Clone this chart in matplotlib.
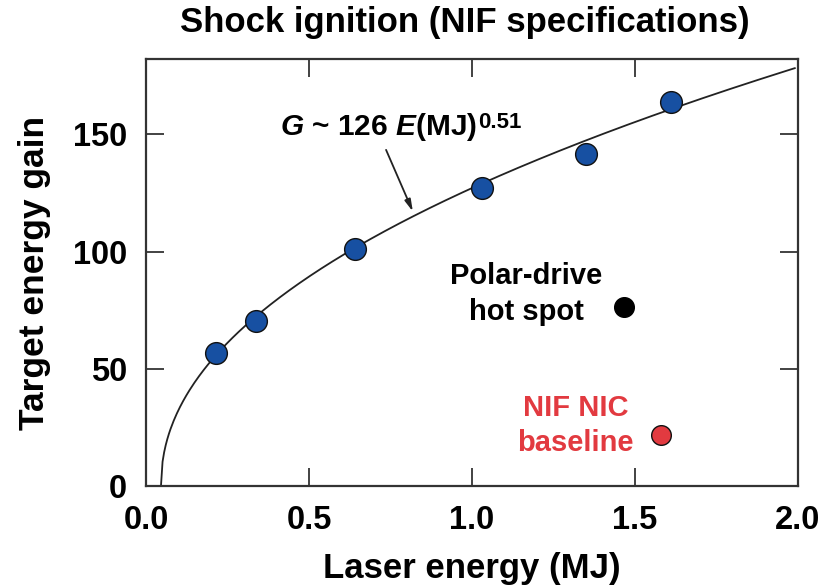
import numpy as np
import matplotlib
matplotlib.use("Agg")
import matplotlib.pyplot as plt

plt.rcParams["font.family"] = ["Liberation Sans", "DejaVu Sans"]
plt.rcParams["font.weight"] = "bold"
plt.rcParams["mathtext.fontset"] = "custom"
plt.rcParams["mathtext.rm"] = "Liberation Sans:bold"
plt.rcParams["mathtext.it"] = "Liberation Sans:italic:bold"
plt.rcParams["mathtext.bf"] = "Liberation Sans:bold"

# shock-ignition designs (laser energy MJ, gain)
si_energy = [0.216, 0.337, 0.64, 1.03, 1.35, 1.61]
si_gain = [56.8, 70.5, 101, 127, 141.5, 164]

# other reference points
pd_energy, pd_gain = 1.465, 76.5      # polar-drive hot spot
nic_energy, nic_gain = 1.58, 21.8     # NIF NIC baseline

# fitted curve as drawn: G = A (E - E0)^p
fit_A, fit_E0, fit_p = 130.0, 0.046, 0.475

x_ticks = [0.0, 0.5, 1.0, 1.5, 2.0]
y_ticks = [0, 50, 100, 150]

BLUE = "#1750a2"
RED = "#e23a40"

fig = plt.figure(figsize=(8.27, 5.86), dpi=100)
ax = fig.add_axes([0.1765, 0.1706, 0.7885, 0.728])

e = np.linspace(fit_E0, 1.99, 400)
ax.plot(e, fit_A * (e - fit_E0) ** fit_p, color="#222222", lw=1.3, zorder=2)

ax.scatter(si_energy, si_gain, s=245, color=BLUE, edgecolor="#111111", lw=1.0, zorder=3)
ax.scatter([pd_energy], [pd_gain], s=200, color="black", zorder=3)
ax.scatter([nic_energy], [nic_gain], s=200, color=RED, edgecolor="#111111", lw=1.0, zorder=3)

ax.annotate("", xy=(0.822, 116), xytext=(0.733, 144.5),
            arrowprops=dict(arrowstyle="-|>,head_length=0.7,head_width=0.18",
                            color="#222222", lw=1.3))
fit_txt = ax.text(0.412, 149.6, r"$G$ ~ 126 $E$(MJ)", fontsize=21.5, fontweight="bold",
                  ha="left", va="baseline")
ax.annotate("0.51", xy=(1, 1), xycoords=fit_txt, xytext=(0.5, -0.5), textcoords="offset points",
            fontsize=16, fontweight="bold", ha="left", va="top")

ax.text(1.167, 81.8, "Polar-drive\nhot spot", fontsize=21, fontweight="bold",
        ha="center", va="center", linespacing=1.35)
ax.text(1.318, 25.8, "NIF NIC\nbaseline", fontsize=21, fontweight="bold",
        ha="center", va="center", color=RED, linespacing=1.35)

ax.set_xlim(0, 2.0)
ax.set_ylim(0, 182)
ax.set_xticks(x_ticks)
ax.set_xticklabels([f"{v:.1f}" for v in x_ticks])
ax.set_yticks(y_ticks)
ax.tick_params(direction="in", length=13, width=1.2, top=True, right=True,
               labelsize=23.5, colors="#222222", labelcolor="black")
ax.tick_params(axis="x", pad=14)
ax.tick_params(axis="y", pad=13.5)
for lab in ax.get_xticklabels() + ax.get_yticklabels():
    lab.set_fontweight("bold")
for sp in ax.spines.values():
    sp.set_linewidth(1.6)
    sp.set_color("#333333")

ax.set_xlabel("Laser energy (MJ)", fontsize=25, fontweight="bold", labelpad=11)
ax.set_ylabel("Target energy gain", fontsize=25.5, fontweight="bold", labelpad=16)
fig.text(0.5617, 1 - 32 / 586, "Shock ignition (NIF specifications)", fontsize=25,
         fontweight="bold", ha="center", va="baseline")

fig.savefig("out.png", dpi=100)
